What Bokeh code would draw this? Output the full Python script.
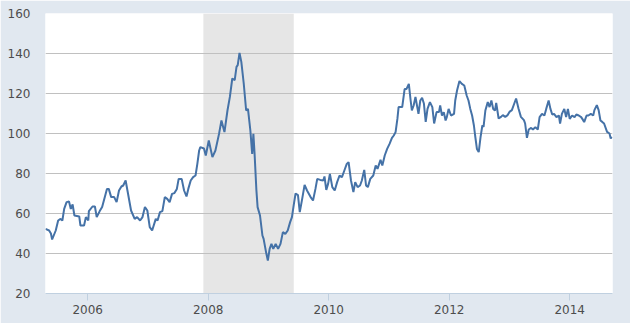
from bokeh.plotting import figure
from bokeh.models import FixedTicker, Range1d, BasicTickFormatter
from bokeh.embed import file_html
from bokeh.resources import INLINE

# ---- data ----
years = [
    2005.30, 2005.36, 2005.39, 2005.41, 2005.47, 2005.51, 2005.55, 2005.58, 2005.61, 2005.65,
    2005.69, 2005.72, 2005.75, 2005.78, 2005.86, 2005.88, 2005.94, 2005.97, 2006.01, 2006.02,
    2006.08, 2006.12, 2006.15, 2006.20, 2006.24, 2006.32, 2006.35, 2006.39, 2006.44, 2006.48,
    2006.52, 2006.56, 2006.59, 2006.63, 2006.66, 2006.72, 2006.78, 2006.82, 2006.87, 2006.91,
    2006.95, 2006.99, 2007.03, 2007.07, 2007.13, 2007.16, 2007.20, 2007.24, 2007.28, 2007.32,
    2007.36, 2007.40, 2007.44, 2007.48, 2007.51, 2007.56, 2007.60, 2007.64, 2007.67, 2007.71,
    2007.75, 2007.79, 2007.82, 2007.85,
    2007.87, 2007.93, 2007.96, 2008.01, 2008.07, 2008.12, 2008.18, 2008.22, 2008.27, 2008.32,
    2008.36, 2008.40, 2008.44, 2008.47, 2008.49, 2008.52, 2008.55, 2008.59, 2008.63, 2008.66,
    2008.70, 2008.73, 2008.75, 2008.77, 2008.80, 2008.82, 2008.86, 2008.90, 2008.92, 2008.96,
    2008.99, 2009.02, 2009.05, 2009.08, 2009.12, 2009.16, 2009.20, 2009.24, 2009.28, 2009.32,
    2009.36, 2009.39, 2009.42, 2009.45, 2009.49, 2009.52, 2009.56, 2009.60, 2009.64, 2009.70,
    2009.74, 2009.78, 2009.81, 2009.86, 2009.91, 2009.93, 2009.96, 2009.99, 2010.02, 2010.06,
    2010.10, 2010.14, 2010.18, 2010.22, 2010.26, 2010.30, 2010.33, 2010.37, 2010.41, 2010.44,
    2010.48, 2010.52, 2010.55, 2010.59, 2010.62, 2010.65, 2010.69, 2010.74, 2010.78, 2010.81,
    2010.86, 2010.89, 2010.93, 2010.97, 2011.01, 2011.05, 2011.08, 2011.11, 2011.14, 2011.16,
    2011.19, 2011.22, 2011.26, 2011.29, 2011.33, 2011.36, 2011.38, 2011.41, 2011.44, 2011.47,
    2011.49, 2011.52, 2011.55, 2011.58, 2011.61, 2011.64, 2011.68, 2011.72, 2011.75, 2011.79,
    2011.83, 2011.85, 2011.88, 2011.91, 2011.94, 2011.96, 2011.99, 2012.03, 2012.08, 2012.10,
    2012.13, 2012.17, 2012.21, 2012.25, 2012.29, 2012.32, 2012.35, 2012.38, 2012.41, 2012.43,
    2012.46, 2012.49, 2012.52, 2012.55, 2012.57, 2012.60, 2012.64, 2012.67, 2012.70, 2012.73,
    2012.76, 2012.78, 2012.82, 2012.86, 2012.89, 2012.93, 2012.97, 2013.00, 2013.04, 2013.08,
    2013.11, 2013.15, 2013.19, 2013.24, 2013.26, 2013.29, 2013.32, 2013.36, 2013.39, 2013.43,
    2013.47, 2013.50, 2013.54, 2013.58, 2013.61, 2013.65, 2013.68, 2013.71, 2013.74, 2013.78,
    2013.82, 2013.84, 2013.87, 2013.91, 2013.94, 2013.97, 2014.00, 2014.04, 2014.08, 2014.11,
    2014.15, 2014.19, 2014.22, 2014.24, 2014.28, 2014.31, 2014.35, 2014.39, 2014.41, 2014.45,
    2014.48, 2014.51, 2014.54, 2014.57, 2014.62, 2014.66, 2014.68, 2014.70,
]
prices = [
    52.3, 51.5, 50.0, 47.0, 51.5, 56.5, 57.3, 56.5, 62.3, 65.7,
    66.0, 62.3, 64.5, 59.0, 58.5, 54.0, 54.0, 58.2, 56.5, 61.2,
    63.5, 63.5, 58.2, 61.2, 63.2, 72.3, 72.3, 68.2, 68.2, 65.7,
    71.5, 73.5, 74.0, 76.5, 71.5, 61.5, 57.3, 58.2, 56.5, 58.2,
    63.2, 61.5, 53.2, 51.5, 57.3, 56.5, 60.7, 61.2, 68.2, 67.3,
    65.7, 69.8, 70.2, 72.3, 77.3, 77.3, 71.5, 68.5, 72.3, 76.5,
    78.2, 79.0, 84.8, 91.5,
    93.2, 92.5, 89.0, 96.5, 88.2, 91.5, 99.8, 106.5, 100.7, 111.5,
    118.3, 127.5, 126.7, 133.3, 134.2, 140.3, 135.8, 125.0, 111.5, 112.3,
    101.5, 89.8, 99.8, 89.8, 71.7, 63.2, 59.0, 49.0, 47.3, 40.7,
    36.5, 42.3, 44.8, 42.3, 44.8, 42.3, 44.8, 50.7, 49.8, 51.5,
    55.7, 58.2, 64.3, 70.0, 69.2, 60.7, 67.3, 74.3, 71.5, 68.2,
    66.5, 72.3, 77.3, 76.8, 76.5, 78.5, 71.8, 74.8, 79.8, 73.2,
    71.5, 75.7, 79.0, 78.2, 81.5, 84.8, 85.7, 76.5, 70.7, 75.7,
    73.2, 74.0, 76.5, 81.8, 74.0, 73.2, 77.3, 79.0, 84.0, 82.3,
    86.8, 84.0, 89.0, 92.3, 94.8, 97.8, 99.0, 100.7, 107.3, 113.2,
    113.2, 113.2, 122.2, 122.2, 124.8, 116.5, 111.5, 114.0, 118.3, 113.2,
    109.8, 116.5, 117.8, 115.0, 105.8, 112.3, 115.7, 113.2, 105.0, 110.7,
    110.7, 114.0, 109.0, 110.7, 106.5, 108.2, 112.3, 109.0, 109.8, 116.5,
    121.5, 126.2, 124.8, 124.0, 119.0, 116.5, 112.3, 109.0, 104.0, 99.0,
    92.3, 90.7, 98.2, 104.0, 103.3, 111.5, 115.7, 113.2, 116.5, 112.3,
    111.5, 115.3, 107.5, 108.3, 109.2, 108.3, 109.2, 110.8, 111.7, 115.0,
    117.5, 112.5, 108.3, 106.7, 105.0, 97.8, 102.0, 102.8, 102.0, 103.2,
    102.0, 108.2, 109.8, 109.0, 112.3, 116.5, 112.3, 109.5, 109.8, 108.2,
    109.0, 105.0, 109.8, 112.3, 108.2, 112.3, 107.3, 109.0, 108.2, 109.5,
    109.0, 108.2, 106.8, 105.7, 109.0, 109.0, 109.8, 109.0, 111.7, 114.2,
    111.7, 106.5, 105.8, 105.0, 100.8, 100.0, 97.5, 98.3,
]
recession_start = [2007.92]
recession_end = [2009.42]
y_ticks = [20, 40, 60, 80, 100, 120, 140, 160]
x_ticks = [2006, 2008, 2010, 2012, 2014]

Y_MIN, Y_MAX = 20, 160
X_MIN, X_MAX = 2005.30, 2014.71

FONT = "DejaVu Sans"
LABEL_COLOR = "#4d4d4d"

p = figure(width=630, height=323, output_backend="svg", toolbar_location=None,
           x_range=Range1d(X_MIN, X_MAX), y_range=Range1d(Y_MIN, Y_MAX),
           min_border_left=45, min_border_right=18, min_border_top=13, min_border_bottom=30)
p.border_fill_color = "#e1e8f0"
p.background_fill_color = "white"
p.outline_line_color = None

band = p.quad(left=recession_start, right=recession_end, bottom=[Y_MIN], top=[Y_MAX],
              fill_color="#e6e6e6", line_color=None)
band.level = "image"

p.line(years, prices, line_color="#4572a7", line_width=2)

p.xgrid.visible = False
p.ygrid.ticker = FixedTicker(ticks=y_ticks)
p.ygrid.grid_line_color = "#c0c0c0"
p.ygrid.grid_line_width = 1

p.yaxis.ticker = FixedTicker(ticks=y_ticks)
p.yaxis.axis_line_color = None
p.yaxis.major_tick_line_color = None
p.yaxis.minor_tick_line_color = None
p.yaxis.major_tick_out = 0
p.yaxis.major_tick_in = 0
p.yaxis.major_label_standoff = 15
p.yaxis.major_label_text_font = FONT
p.yaxis.major_label_text_font_size = "12px"
p.yaxis.major_label_text_color = LABEL_COLOR

p.xaxis.ticker = FixedTicker(ticks=x_ticks)
p.xaxis.formatter = BasicTickFormatter(use_scientific=False)
p.xaxis.axis_line_color = "#c0d0e0"
p.xaxis.major_tick_line_color = "#c0d0e0"
p.xaxis.minor_tick_line_color = None
p.xaxis.major_tick_out = 7
p.xaxis.major_tick_in = 0
p.xaxis.major_label_standoff = 4
p.xaxis.major_label_text_font = FONT
p.xaxis.major_label_text_font_size = "12px"
p.xaxis.major_label_text_color = LABEL_COLOR

open("out.html", "w").write(file_html(p, INLINE))
